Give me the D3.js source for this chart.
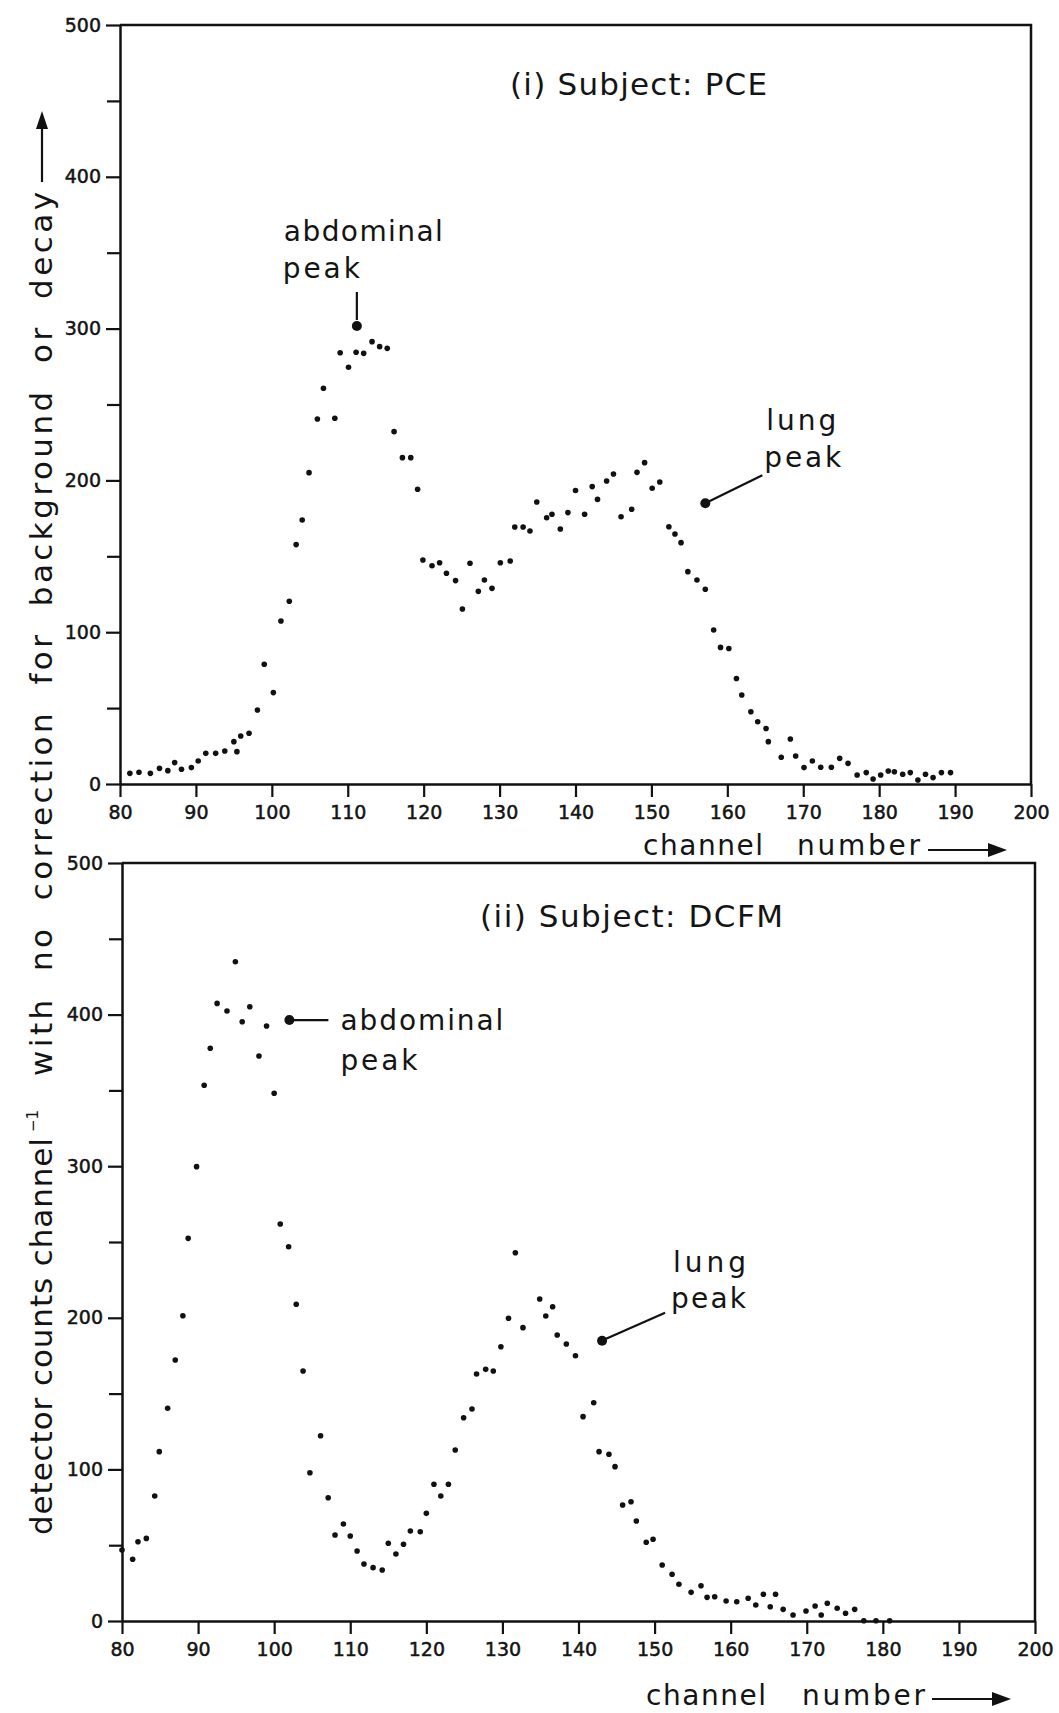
<!DOCTYPE html>
<html>
<head>
<meta charset="utf-8">
<script src="https://cdn.jsdelivr.net/npm/d3@7"></script>
<style>
body { margin: 0; background: #fff; }
svg { display: block; }
text { font-family: "DejaVu Sans", sans-serif; fill: #141414; }
</style>
</head>
<body>
<svg id="chart" width="1059" height="1713"></svg>
<script>
// spectra: [channel, detector counts]
var pceSpectrum = [
	[81.3,7.0],[82.5,7.7],[84.0,7.0],[85.2,10.3],[86.3,8.8],[87.2,14.1],[88.1,9.7],[89.4,10.8],
	[90.3,15.2],[91.3,20.2],[92.6,20.2],[93.8,21.7],[95.0,27.9],[95.4,21.3],[95.9,31.6],[97.0,33.4],
	[98.1,48.7],[99.0,78.9],[100.2,60.2],[101.2,107.4],[102.3,120.4],[103.2,157.7],[104.0,173.9],
	[104.9,205.1],[106.0,240.4],[106.8,260.7],[108.3,240.9],[109.0,284.1],[110.1,274.5],[111.1,284.4],
	[112.1,283.7],[113.2,291.4],[114.2,288.1],[115.2,287.0],[116.1,232.1],[117.2,215.0],[118.3,215.0],
	[119.2,194.2],[119.9,147.6],[121.1,143.8],[122.1,145.8],[123.0,138.8],[124.2,134.0],[125.1,115.3],
	[126.1,145.4],[127.2,126.9],[128.0,134.4],[129.0,128.9],[130.1,145.8],[131.4,146.9],[132.0,169.3],
	[133.1,169.3],[134.0,166.7],[134.9,185.8],[136.2,175.4],[136.9,177.7],[138.0,168.0],[139.0,178.8],
	[140.0,193.3],[141.2,177.7],[142.2,195.9],[142.9,187.5],[144.1,199.6],[145.0,204.2],[146.0,176.1],
	[147.4,181.0],[148.1,205.3],[149.1,211.7],[150.1,194.8],[151.1,198.9],[152.3,169.5],[153.1,164.7],
	[153.9,159.0],[154.8,139.9],[156.0,134.4],[157.1,128.3],[158.2,101.4],[159.1,90.0],[160.2,89.3],
	[161.2,69.5],[161.9,58.6],[163.1,47.6],[164.0,41.0],[165.1,36.6],[165.4,27.9],[167.1,17.6],
	[168.3,29.6],[169.0,18.4],[170.1,10.8],[171.2,15.2],[172.3,11.0],[173.7,11.0],[174.8,16.9],
	[175.9,13.6],[177.1,5.9],[178.3,7.5],[179.2,3.3],[180.2,5.9],[181.2,8.6],[182.0,8.1],[183.1,6.4],
	[184.1,7.5],[185.1,2.6],[186.1,6.4],[187.1,4.2],[188.2,7.5],[189.4,7.5]
];

var dcfmSpectrum = [
	[80.0,46.8],[81.4,40.7],[82.1,52.3],[83.2,54.5],[84.3,82.5],[84.9,111.7],[86.0,140.3],[87.0,172.2],
	[88.0,201.4],[88.7,252.4],[89.8,299.7],[90.8,353.4],[91.6,377.8],[92.5,407.4],[93.8,402.4],
	[94.9,434.9],[95.8,395.3],[96.8,405.2],[98.0,372.7],[99.0,392.5],[100.0,348.1],[100.8,261.9],
	[101.9,246.9],[102.9,208.9],[103.8,164.9],[104.7,97.8],[106.1,122.2],[107.1,81.3],[108.0,56.7],
	[109.1,64.0],[110.0,56.1],[110.9,46.2],[111.8,37.6],[113.0,35.2],[114.2,33.6],[115.0,51.3],
	[116.0,44.2],[117.0,50.6],[117.9,59.4],[119.2,58.9],[120.0,71.0],[121.0,90.2],[121.9,82.5],
	[122.9,90.2],[123.8,112.8],[124.9,134.1],[126.0,139.8],[126.6,162.9],[127.8,166.0],[128.8,164.9],
	[129.8,180.9],[130.8,199.7],[131.7,242.9],[132.7,193.5],[134.9,212.4],[135.7,201.2],[136.6,207.3],
	[137.2,188.7],[138.4,182.7],[139.6,175.0],[140.6,134.8],[142.0,144.0],[142.7,111.7],[144.0,110.0],
	[144.8,101.8],[145.8,76.5],[146.9,78.7],[147.6,66.0],[148.9,51.9],[149.8,53.9],[151.0,36.9],
	[152.3,30.8],[153.2,24.2],[154.8,18.9],[156.1,23.3],[156.9,15.6],[157.9,16.0],[159.4,13.2],
	[160.8,12.7],[162.3,15.0],[163.3,10.6],[164.3,17.6],[165.2,9.4],[165.9,17.6],[166.9,7.7],
	[168.2,4.0],[169.9,6.6],[171.1,9.9],[171.9,4.0],[172.7,11.7],[174.0,8.4],[175.1,5.1],[176.3,7.7],
	[177.5,0.2],[179.1,0.2],[180.9,0.2]
];

// big dots marking the peaks: [channel, counts]
var pcePeaks = [[111.2,301.7],[157.1,184.9]];
var dcfmPeaks = [[102.0,396.4],[143.1,184.9]];

var xTicks = d3.range(80, 201, 10);
var yMajor = [0, 100, 200, 300, 400, 500];
var yMinor = [50, 150, 250, 350, 450];
var subjects = ["(i) Subject: PCE", "(ii) Subject: DCFM"];

var svg = d3.select("#chart");

var panels = [
	{ data: pceSpectrum, peaks: pcePeaks, title: subjects[0],
	  x: d3.scaleLinear().domain([80, 200]).range([120, 1031]),
	  y: d3.scaleLinear().domain([0, 500]).range([784, 25]),
	  titlePos: [510, 95, 257], xlab: [643, 855, 797, 928, 850],
	  notes: [
		{ leader: [0,-34,0,-6], lines: [["abdominal",-73,-85,159],["peak",-74,-48,77]] },
		{ leader: [4,-2,57,-28], lines: [["lung",61,-73,70],["peak",59,-36,77]] }
	  ] },
	{ data: dcfmSpectrum, peaks: dcfmPeaks, title: subjects[1],
	  x: d3.scaleLinear().domain([80, 200]).range([122, 1035]),
	  y: d3.scaleLinear().domain([0, 500]).range([1621, 863]),
	  titlePos: [480, 927, 303], xlab: [646, 1705, 802, 932, 1699],
	  notes: [
		{ leader: [4,0,39,0], lines: [["abdominal",51,10,163],["peak",51,50,77]] },
		{ leader: [4,-2,63,-28], lines: [["lung",71,-69,73],["peak",69,-33,75]] }
	  ] }
];

panels.forEach(function (p) {
	var g = svg.append("g");

	// frame: top and right edges
	g.append("path")
		.attr("d", "M" + p.x(80) + "," + p.y(500) + "H" + p.x(200) + "V" + p.y(0))
		.attr("fill", "none").attr("stroke", "#111").attr("stroke-width", 2.5);

	g.append("g").attr("transform", "translate(" + p.x(80) + ",0)")
		.call(d3.axisLeft(p.y).tickValues(yMajor).tickSize(14).tickSizeOuter(0).tickPadding(5));
	g.append("g").attr("transform", "translate(" + p.x(80) + ",0)")
		.call(d3.axisLeft(p.y).tickValues(yMinor).tickSize(13).tickSizeOuter(0).tickFormat(""))
		.select(".domain").remove();
	g.append("g").attr("transform", "translate(0," + p.y(0) + ")")
		.call(d3.axisBottom(p.x).tickValues(xTicks).tickSize(13).tickSizeOuter(0).tickPadding(9));

	g.selectAll(".domain").attr("stroke", "#111").attr("stroke-width", 2.5);
	g.selectAll(".tick line").attr("stroke", "#111").attr("stroke-width", 2.2);
	g.selectAll(".tick text").style("font-family", "DejaVu Sans, sans-serif")
		.style("font-size", "19px").attr("fill", "#141414")
		.attr("stroke", "#141414").attr("stroke-width", 0.5);

	// data points
	g.selectAll("circle.pt").data(p.data).enter().append("circle")
		.attr("class", "pt")
		.attr("cx", function (d) { return p.x(d[0]); })
		.attr("cy", function (d) { return p.y(d[1]); })
		.attr("r", 2.8).attr("fill", "#111");

	// peak annotations
	p.peaks.forEach(function (pk, i) {
		var cx = p.x(pk[0]), cy = p.y(pk[1]), n = p.notes[i];
		g.append("circle").attr("cx", cx).attr("cy", cy).attr("r", 5).attr("fill", "#111");
		g.append("line")
			.attr("x1", cx + n.leader[0]).attr("y1", cy + n.leader[1])
			.attr("x2", cx + n.leader[2]).attr("y2", cy + n.leader[3])
			.attr("stroke", "#111").attr("stroke-width", 2.2);
		n.lines.forEach(function (l) {
			g.append("text").text(l[0])
				.attr("x", cx + l[1]).attr("y", cy + l[2])
				.attr("textLength", l[3]).attr("lengthAdjust", "spacing")
				.style("font-size", "28px");
		});
	});

	g.append("text").text(p.title)
		.attr("x", p.titlePos[0]).attr("y", p.titlePos[1])
		.attr("textLength", p.titlePos[2]).attr("lengthAdjust", "spacing")
		.style("font-size", "31px");

	// channel number -->
	g.append("text").text("channel").attr("x", p.xlab[0]).attr("y", p.xlab[1])
		.attr("textLength", 120).attr("lengthAdjust", "spacing").style("font-size", "28px");
	g.append("text").text("number").attr("x", p.xlab[2]).attr("y", p.xlab[1])
		.attr("textLength", 123).attr("lengthAdjust", "spacing").style("font-size", "28px");
	g.append("line").attr("x1", p.xlab[3]).attr("x2", p.xlab[3] + 62)
		.attr("y1", p.xlab[4]).attr("y2", p.xlab[4])
		.attr("stroke", "#111").attr("stroke-width", 2.2);
	g.append("path")
		.attr("d", "M" + (p.xlab[3] + 79) + "," + p.xlab[4] + "l-19,-7v14z")
		.attr("fill", "#111");
});

// shared vertical axis title
var yt = svg.append("g").attr("transform", "translate(52,1535) rotate(-90)");
yt.append("text").text("detector counts channel")
	.attr("x", 0).attr("y", 0)
	.attr("textLength", 397).attr("lengthAdjust", "spacing")
	.style("font-size", "31px");
yt.append("text").text("\u22121")
	.attr("x", 403).attr("y", -14)
	.style("font-size", "15px");
yt.append("text").text("with no correction for background or decay")
	.attr("x", 459).attr("y", 0)
	.style("word-spacing", "12px").style("letter-spacing", "3px")
	.attr("textLength", 887).attr("lengthAdjust", "spacing")
	.style("font-size", "31px");
yt.append("line").attr("x1", 1353).attr("x2", 1408).attr("y1", -10).attr("y2", -10)
	.attr("stroke", "#111").attr("stroke-width", 2.2);
yt.append("path").attr("d", "M1424,-10l-18,-6v12z").attr("fill", "#111");
</script>
</body>
</html>
